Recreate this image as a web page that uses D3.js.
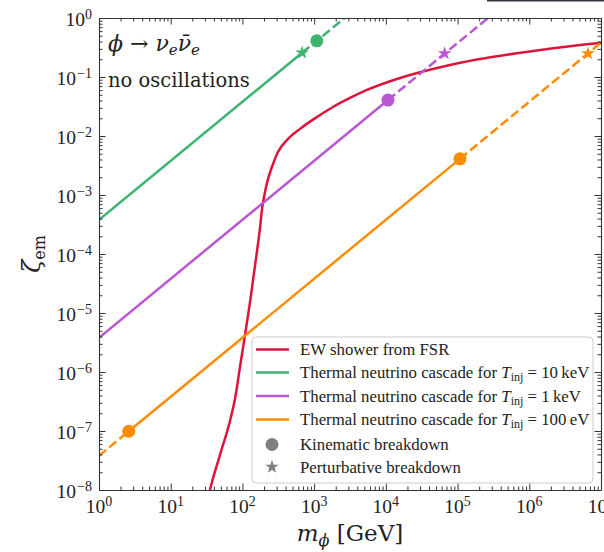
<!DOCTYPE html>
<html>
<head>
<meta charset="utf-8">
<script src="https://cdn.jsdelivr.net/npm/d3@7"></script>
<style>
  body { margin: 0; background: #fff; }
  svg text { font-family: 'DejaVu Serif', serif; fill: #222; }
  svg text.num { font-family: 'Liberation Serif', serif; }
</style>
</head>
<body>
<svg id="chart"></svg>
<script>
// EW shower from FSR  [m_phi (GeV), zeta_em]
const redMass = [33, 35.3, 48.6, 67.1, 78.7, 92.5, 108.6, 127.6, 149.6, 175.8, 189.3, 200, 220, 258, 313, 431, 635, 1096, 1832, 3162, 5458, 15740, 78300, 1127000, 9680000, 12000000]
const redZeta = [7e-9, 1.0e-8, 3.92e-8, 1.48e-7, 3.48e-7, 1.22e-6, 4.24e-6, 1.53e-5, 6.26e-5, 2.76e-4, 6.26e-4, 9.25e-4, 1.6e-3, 2.99e-3, 5.36e-3, 8.9e-3, 1.32e-2, 2.1e-2, 3.1e-2, 4.41e-2, 6.03e-2, 9.62e-2, 0.160, 0.276, 0.377, 0.386]

// thermal neutrino cascade, T_inj = 10 keV
const greenSolid = [[1, 3.8e-4], [680, 0.258]]
const greenDashed = [[680, 0.258], [3200, 1.2]]
const greenCircles = [[1090, 0.41]]
const greenStars = [[680, 0.258]]

// T_inj = 1 keV
const purpleSolid = [[1, 3.8e-6], [10700, 0.0407]]
const purpleDashed = [[10700, 0.0407], [320000, 1.2]]
const purpleCircles = [[10700, 0.0407]]
const purpleStars = [[66000, 0.25]]

// T_inj = 100 eV
const orangeSolid = [[2.6, 9.9e-8], [108000, 4.1e-3]]
const orangeDashed = [[[1, 3.8e-8], [2.6, 9.9e-8]], [[108000, 4.1e-3], [1.1e7, 0.42]]]
const orangeCircles = [[2.6, 9.9e-8], [108000, 4.1e-3]]
const orangeStars = [[6600000, 0.25]]

const legendLabels = ['EW shower from FSR', '10\u2009keV', '1\u2009keV', '100\u2009eV', 'Kinematic breakdown', 'Perturbative breakdown']
const xTickPowers = [0, 1, 2, 3, 4, 5, 6, 7]
const yTickPowers = [-8, -7, -6, -5, -4, -3, -2, -1, 0]

const colors = { red: '#dc143c', green: '#3cb371', purple: '#ba55d3', orange: '#ff8c00', grey: '#808080' }

const width = 604
const height = 552
const margin = { top: 18, right: 3, bottom: 62, left: 99 }
const x0 = margin.left, x1 = width - margin.right
const y0 = height - margin.bottom, y1 = margin.top

const svg = d3.select('#chart').attr('width', width).attr('height', height)

const x = d3.scaleLog().domain([1, 1e7]).range([x0, x1])
const y = d3.scaleLog().domain([1e-8, 1]).range([y0, y1])

// leftover frame edge at the very top
svg.append('rect').attr('x', 487).attr('y', 0).attr('width', 117).attr('height', 1.5).attr('fill', '#33383f')

svg.append('clipPath').attr('id', 'plot-clip')
  .append('rect').attr('x', x0).attr('y', y1).attr('width', x1 - x0).attr('height', y0 - y1)

const plot = svg.append('g').attr('clip-path', 'url(#plot-clip)')

const line = d3.line().x(d => x(d[0])).y(d => y(d[1]))
const lw = 2.5
const dash = '9.25,4'

// red curve
const redPts = redMass.map((m, i) => [m, redZeta[i]])
plot.append('path')
  .attr('d', d3.line().x(d => x(d[0])).y(d => y(d[1])).curve(d3.curveMonotoneX)(redPts))
  .attr('fill', 'none').attr('stroke', colors.red).attr('stroke-width', lw)

const cascades = [
  { color: colors.green, solid: [greenSolid], dashed: [greenDashed], circles: greenCircles, stars: greenStars },
  { color: colors.purple, solid: [purpleSolid], dashed: [purpleDashed], circles: purpleCircles, stars: purpleStars },
  { color: colors.orange, solid: [orangeSolid], dashed: orangeDashed, circles: orangeCircles, stars: orangeStars }
]

cascades.forEach(c => {
  c.solid.forEach(seg => plot.append('path').attr('d', line(seg))
    .attr('fill', 'none').attr('stroke', c.color).attr('stroke-width', lw))
  c.dashed.forEach(seg => plot.append('path').attr('d', line(seg))
    .attr('fill', 'none').attr('stroke', c.color).attr('stroke-width', lw)
    .attr('stroke-dasharray', dash))
})

const star = d3.symbol().type(d3.symbolStar).size(58)
cascades.forEach(c => {
  svg.selectAll(null).data(c.circles).enter().append('circle')
    .attr('cx', d => x(d[0])).attr('cy', d => y(d[1])).attr('r', 6.5).attr('fill', c.color)
  svg.selectAll(null).data(c.stars).enter().append('path')
    .attr('d', star).attr('transform', d => `translate(${x(d[0])},${y(d[1])})`).attr('fill', c.color)
})

// axes with inward ticks on all sides
const minorVals = (dom) => {
  const out = []
  for (let p = Math.log10(dom[0]); p < Math.log10(dom[1]); p++)
    for (let k = 2; k <= 9; k++) out.push(k * Math.pow(10, p))
  return out
}
const xMajor = xTickPowers.map(p => Math.pow(10, p))
const yMajor = yTickPowers.map(p => Math.pow(10, p))
const axisDefs = [
  [d3.axisBottom(x), xMajor, minorVals(x.domain()), `translate(0,${y0})`],
  [d3.axisTop(x), xMajor, minorVals(x.domain()), `translate(0,${y1})`],
  [d3.axisLeft(y), yMajor, minorVals(y.domain()), `translate(${x0},0)`],
  [d3.axisRight(y), yMajor, minorVals(y.domain()), `translate(${x1},0)`]
]
axisDefs.forEach(([ax, major, minor, tr]) => {
  const g1 = svg.append('g').attr('transform', tr)
    .call(ax.tickValues(major).tickSize(-6.5).tickSizeOuter(0).tickFormat(''))
  const g2 = svg.append('g').attr('transform', tr)
    .call(ax.tickValues(minor).tickSize(-3.5).tickSizeOuter(0).tickFormat(''))
  g2.select('.domain').remove()
  ;[g1, g2].forEach(g => {
    g.selectAll('line').attr('stroke', '#333').attr('stroke-width', 1)
    g.select('.domain').attr('stroke', '#333').attr('stroke-width', 1.1)
  })
})

// tick labels
xTickPowers.forEach(p => {
  const t = svg.append('text').attr('class', 'num').attr('x', x(Math.pow(10, p))).attr('y', y0 + 23)
    .attr('text-anchor', 'middle').attr('font-size', 19.5)
  t.append('tspan').text('10')
  t.append('tspan').attr('font-size', 14).attr('dy', -7.5).text(p)
})
yTickPowers.forEach(p => {
  const t = svg.append('text').attr('class', 'num').attr('x', x0 - 7).attr('y', y(Math.pow(10, p)) + 8)
    .attr('text-anchor', 'end').attr('font-size', 19.5)
  t.append('tspan').text('10')
  t.append('tspan').attr('font-size', 14).attr('dy', -7.5).attr('dx', p === 0 ? 0 : 1)
    .text(p === 0 ? '0' : '\u2212' + (-p))
})

// axis titles
const xl = svg.append('text').attr('x', (x0 + x1) / 2).attr('y', 541)
  .attr('text-anchor', 'middle').attr('font-size', 23)
xl.append('tspan').attr('font-style', 'italic').text('m')
xl.append('tspan').attr('font-style', 'italic').attr('font-size', 16).attr('dy', 5).text('\u03d5')
xl.append('tspan').attr('dy', -5).text(' [GeV]')

const yl = svg.append('text').attr('transform', `translate(40,${(y0 + y1) / 2}) rotate(-90)`)
  .attr('text-anchor', 'middle').attr('font-size', 24)
yl.append('tspan').attr('font-style', 'italic').text('\u03b6')
yl.append('tspan').attr('font-size', 16).attr('dy', 5).text('em')

// annotation
const ann = svg.append('text').attr('x', 108).attr('y', 51).attr('font-size', 22).attr('font-style', 'italic')
ann.append('tspan').text('\u03d5')
ann.append('tspan').attr('font-style', 'normal').text(' \u2192 ')
ann.append('tspan').text('\u03bd')
ann.append('tspan').attr('font-size', 15).attr('dy', 4).text('e')
ann.append('tspan').attr('dy', -4).text('\u03bd\u0304')
ann.append('tspan').attr('font-size', 15).attr('dy', 4).text('e')
svg.append('text').attr('x', 108).attr('y', 87).attr('font-size', 19.5).text('no oscillations')

// legend
const lg = svg.append('g').attr('transform', 'translate(252,337)')
lg.append('rect').attr('width', 341).attr('height', 146).attr('rx', 4)
  .attr('fill', 'rgba(255,255,255,0.85)').attr('stroke', '#cccccc').attr('stroke-width', 1)
const rowY = [12.5, 35.5, 59, 82.5, 107.5, 130]
const lineColors = [colors.red, colors.green, colors.purple, colors.orange]
lineColors.forEach((c, i) => {
  lg.append('line').attr('x1', 4).attr('x2', 37).attr('y1', rowY[i]).attr('y2', rowY[i])
    .attr('stroke', c).attr('stroke-width', lw)
})
lg.append('circle').attr('cx', 20).attr('cy', rowY[4]).attr('r', 6.5).attr('fill', colors.grey)
lg.append('path').attr('d', star).attr('transform', `translate(20,${rowY[5]})`).attr('fill', colors.grey)
legendLabels.forEach((label, i) => {
  const t = lg.append('text').attr('class', 'num').attr('x', 48).attr('y', rowY[i] + 5.5).attr('font-size', 16.8)
  if (i >= 1 && i <= 3) {
    t.append('tspan').text('Thermal neutrino cascade for ')
    t.append('tspan').attr('font-style', 'italic').text('T')
    t.append('tspan').attr('font-size', 12).attr('dy', 3).text('inj')
    t.append('tspan').attr('dy', -3).text(' = ' + label)
  } else {
    t.text(label)
  }
})
</script>
</body>
</html>
